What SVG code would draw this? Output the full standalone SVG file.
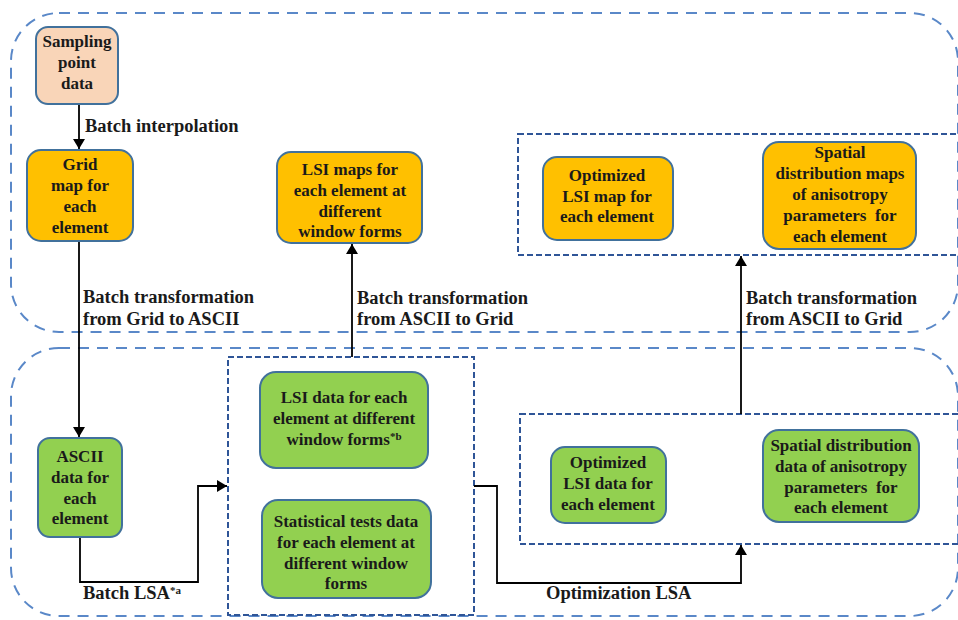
<svg xmlns="http://www.w3.org/2000/svg" width="958" height="620" viewBox="0 0 958 620">
<defs>
<marker id="ah" viewBox="0 0 10 12" refX="10" refY="6" markerWidth="11" markerHeight="12" markerUnits="userSpaceOnUse" orient="auto">
<path d="M0,0 L10,6 L0,12 z" fill="#000"/>
</marker>
<style>
.big{fill:none;stroke:#5A88C8;stroke-width:2;stroke-dasharray:11 8}
.grp{fill:none;stroke:#2F5597;stroke-width:2;stroke-dasharray:6 3}
.node rect{stroke:#41719C;stroke-width:2}
.y{fill:#FFC000}
.g{fill:#92D050}
.p{fill:#F9D5B8}
text{font-family:"Liberation Serif","Times New Roman",serif;font-weight:bold;fill:#1a1a1a}
.node text{font-size:17px;text-anchor:middle}
.lbl{font-size:18.5px}
.sup{font-size:11px}
.conn path{fill:none;stroke:#000;stroke-width:1.8}
</style>
</defs>
<rect width="958" height="620" fill="#fff"/>
<g id="regions">
<rect class="big" x="11" y="13" width="947" height="319" rx="48"/>
<rect class="big" x="11" y="348" width="947" height="268" rx="48"/>
<rect class="grp" x="228" y="357" width="246" height="258"/>
<rect class="grp" x="518" y="134" width="460" height="121"/>
<rect class="grp" x="520" y="414" width="460" height="130"/>
</g>
<g class="conn" id="connectors">
<path d="M79,104 V149" marker-end="url(#ah)"/>
<path d="M79,241 V437" marker-end="url(#ah)"/>
<path d="M80,537 V582 H198 V486 H227" marker-end="url(#ah)"/>
<path d="M352,357 V244" marker-end="url(#ah)"/>
<path d="M474,486 H497 V583 H741 V545" marker-end="url(#ah)"/>
<path d="M741,414 V256" marker-end="url(#ah)"/>
</g>
<g id="labels">
<text class="lbl" x="85" y="132">Batch interpolation</text>
<text class="lbl" x="83" y="303">Batch transformation</text>
<text class="lbl" x="83" y="325">from Grid to ASCII</text>
<text class="lbl" x="357" y="304">Batch transformation</text>
<text class="lbl" x="357" y="325">from ASCII to Grid</text>
<text class="lbl" x="746" y="304">Batch transformation</text>
<text class="lbl" x="746" y="325">from ASCII to Grid</text>
<text class="lbl" x="83" y="599">Batch LSA<tspan class="sup" dy="-5">*a</tspan></text>
<text class="lbl" x="546" y="599">Optimization LSA</text>
</g>
<g class="node" id="sampling">
<rect class="p" x="36" y="27" width="82" height="77" rx="12"/>
<text x="77" y="47">Sampling</text>
<text x="77" y="68">point</text>
<text x="77" y="89">data</text>
</g>
<g class="node" id="grid">
<rect class="y" x="27" y="150" width="106" height="91" rx="14"/>
<text x="80" y="170">Grid</text>
<text x="80" y="191">map for</text>
<text x="80" y="212">each</text>
<text x="80" y="233">element</text>
</g>
<g class="node" id="ascii">
<rect class="g" x="38" y="438" width="84" height="99" rx="12"/>
<text x="80" y="462">ASCII</text>
<text x="80" y="483">data for</text>
<text x="80" y="504">each</text>
<text x="80" y="524">element</text>
</g>
<g class="node" id="lsi-data">
<rect class="g" x="260" y="372" width="168" height="96" rx="16"/>
<text x="344" y="403">LSI data for each</text>
<text x="344" y="424">element at different</text>
<text x="344" y="445">window forms<tspan class="sup" dy="-5">*b</tspan></text>
</g>
<g class="node" id="stat-tests">
<rect class="g" x="262" y="500" width="169" height="98" rx="16"/>
<text x="346" y="527">Statistical tests data</text>
<text x="346" y="548">for each element at</text>
<text x="346" y="569">different window</text>
<text x="346" y="589">forms</text>
</g>
<g class="node" id="lsi-maps">
<rect class="y" x="277" y="152" width="145" height="91" rx="14"/>
<text x="350" y="175">LSI maps for</text>
<text x="350" y="196">each element at</text>
<text x="350" y="217">different</text>
<text x="350" y="237">window forms</text>
</g>
<g class="node" id="opt-map">
<rect class="y" x="543" y="157" width="130" height="83" rx="14"/>
<text x="607" y="181">Optimized</text>
<text x="607" y="202">LSI map for</text>
<text x="607" y="222">each element</text>
</g>
<g class="node" id="aniso-maps">
<rect class="y" x="763" y="142" width="153" height="107" rx="16"/>
<text x="840" y="158">Spatial</text>
<text x="840" y="179">distribution maps</text>
<text x="840" y="200">of anisotropy</text>
<text x="840" y="221">parameters&#160; for</text>
<text x="840" y="242">each element</text>
</g>
<g class="node" id="opt-data">
<rect class="g" x="551" y="447" width="115" height="76" rx="14"/>
<text x="608" y="468">Optimized</text>
<text x="608" y="489">LSI data for</text>
<text x="608" y="510">each element</text>
</g>
<g class="node" id="aniso-data">
<rect class="g" x="763" y="430" width="156" height="92" rx="16"/>
<text x="841" y="451">Spatial distribution</text>
<text x="841" y="472">data of anisotropy</text>
<text x="841" y="493">parameters&#160; for</text>
<text x="841" y="513">each element</text>
</g>
</svg>
